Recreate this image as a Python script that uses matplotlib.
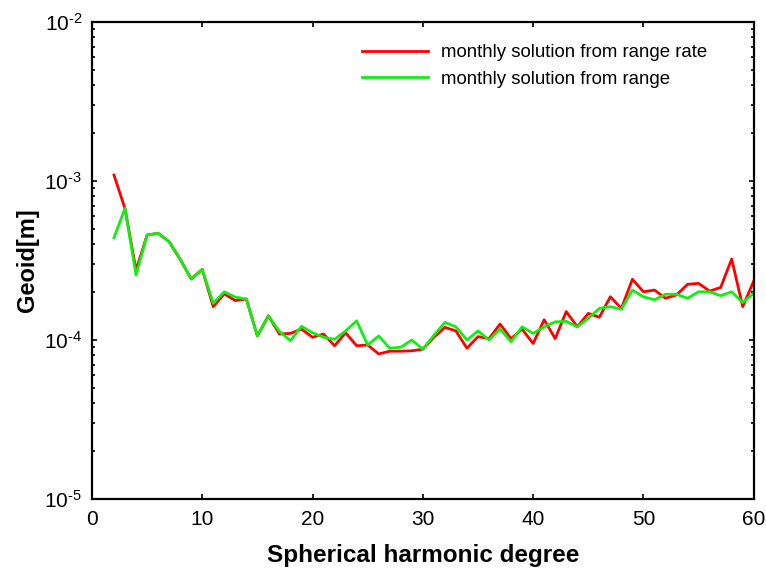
import math
import matplotlib
matplotlib.use("Agg")
import matplotlib.pyplot as plt
from matplotlib.ticker import LogLocator, FixedLocator, FuncFormatter, NullFormatter

plt.rcParams["font.family"] = ["Liberation Sans", "DejaVu Sans"]
plt.rcParams["mathtext.fontset"] = "custom"
plt.rcParams["mathtext.rm"] = "Liberation Sans"

# ----------------------------- Data -----------------------------

degree = list(range(2, 61))

range_rate = [
    1.09e-3, 6.7e-4, 2.75e-4, 4.57e-4, 4.69e-4, 4.15e-4, 3.22e-4, 2.42e-4, 2.78e-4,
    1.62e-4, 1.95e-4, 1.77e-4, 1.81e-4, 1.06e-4, 1.42e-4, 1.09e-4, 1.10e-4, 1.17e-4,
    1.04e-4, 1.09e-4, 9.2e-5, 1.11e-4, 9.2e-5, 9.3e-5, 8.17e-5, 8.5e-5, 8.5e-5,
    8.55e-5, 8.75e-5, 1.04e-4, 1.20e-4, 1.14e-4, 8.87e-5, 1.05e-4, 1.02e-4, 1.26e-4,
    1.02e-4, 1.17e-4, 9.5e-5, 1.34e-4, 1.02e-4, 1.51e-4, 1.21e-4, 1.47e-4, 1.39e-4,
    1.87e-4, 1.58e-4, 2.41e-4, 2.01e-4, 2.06e-4, 1.83e-4, 1.92e-4, 2.24e-4, 2.27e-4,
    2.03e-4, 2.14e-4, 3.23e-4, 1.62e-4, 2.35e-4,
]

range_only = [
    4.4e-4, 6.73e-4, 2.56e-4, 4.57e-4, 4.69e-4, 4.15e-4, 3.22e-4, 2.42e-4, 2.78e-4,
    1.70e-4, 2.01e-4, 1.86e-4, 1.81e-4, 1.06e-4, 1.42e-4, 1.13e-4, 9.9e-5, 1.22e-4,
    1.11e-4, 1.04e-4, 1.01e-4, 1.14e-4, 1.32e-4, 9.3e-5, 1.06e-4, 8.87e-5, 9.0e-5,
    1.0e-4, 8.75e-5, 1.07e-4, 1.29e-4, 1.21e-4, 1.0e-4, 1.14e-4, 1.0e-4, 1.17e-4,
    9.76e-5, 1.21e-4, 1.10e-4, 1.21e-4, 1.30e-4, 1.31e-4, 1.21e-4, 1.37e-4, 1.58e-4,
    1.62e-4, 1.56e-4, 2.06e-4, 1.87e-4, 1.79e-4, 1.94e-4, 1.94e-4, 1.83e-4, 2.01e-4,
    2.01e-4, 1.90e-4, 2.01e-4, 1.72e-4, 1.97e-4,
]

x_ticks = [0, 10, 20, 30, 40, 50, 60]
labels = ["monthly solution from range rate", "monthly solution from range"]


def log_label(v, pos):
    # hyphen instead of a minus sign, like the original figure
    return "$\\mathregular{10^{\u2010%d}}$" % abs(round(math.log10(v)))


# ----------------------------- Plot -----------------------------

fig = plt.figure(figsize=(7.66, 5.70), dpi=100)
ax = fig.add_axes([0.120, 0.1246, 0.864, 0.8368])

ax.plot(degree, range_rate, color="#ff0000", lw=2.0, label=labels[0])
ax.plot(degree, range_only, color="#11ee11", lw=2.0, label=labels[1])

ax.set_yscale("log")
ax.set_xlim(0, 60)
ax.set_ylim(1e-5, 1e-2)

ax.xaxis.set_major_locator(FixedLocator(x_ticks))
ax.yaxis.set_major_locator(LogLocator(base=10, numticks=10))
ax.yaxis.set_minor_locator(LogLocator(base=10, subs=range(2, 10), numticks=10))
ax.yaxis.set_minor_formatter(NullFormatter())
ax.yaxis.set_major_formatter(FuncFormatter(log_label))

ax.tick_params(which="both", direction="in", top=True, right=True, labelsize=15, width=1.2)
ax.tick_params(which="major", length=3.8)
ax.tick_params(which="minor", length=2.4)
ax.tick_params(axis="x", pad=8)
ax.tick_params(axis="y", pad=7)
for s in ax.spines.values():
    s.set_linewidth(1.6)

ax.set_xlabel("Spherical harmonic degree", fontsize=17.5, fontweight="bold", labelpad=11)
ax.set_ylabel("Geoid[m]", fontsize=17, fontweight="bold", labelpad=4)

ax.legend(loc="upper right", bbox_to_anchor=(0.941, 0.969), frameon=False,
          fontsize=13.4, handlelength=3.55, handletextpad=0.7,
          labelspacing=0.5, borderaxespad=0.0)

fig.savefig("out.png", dpi=100)
